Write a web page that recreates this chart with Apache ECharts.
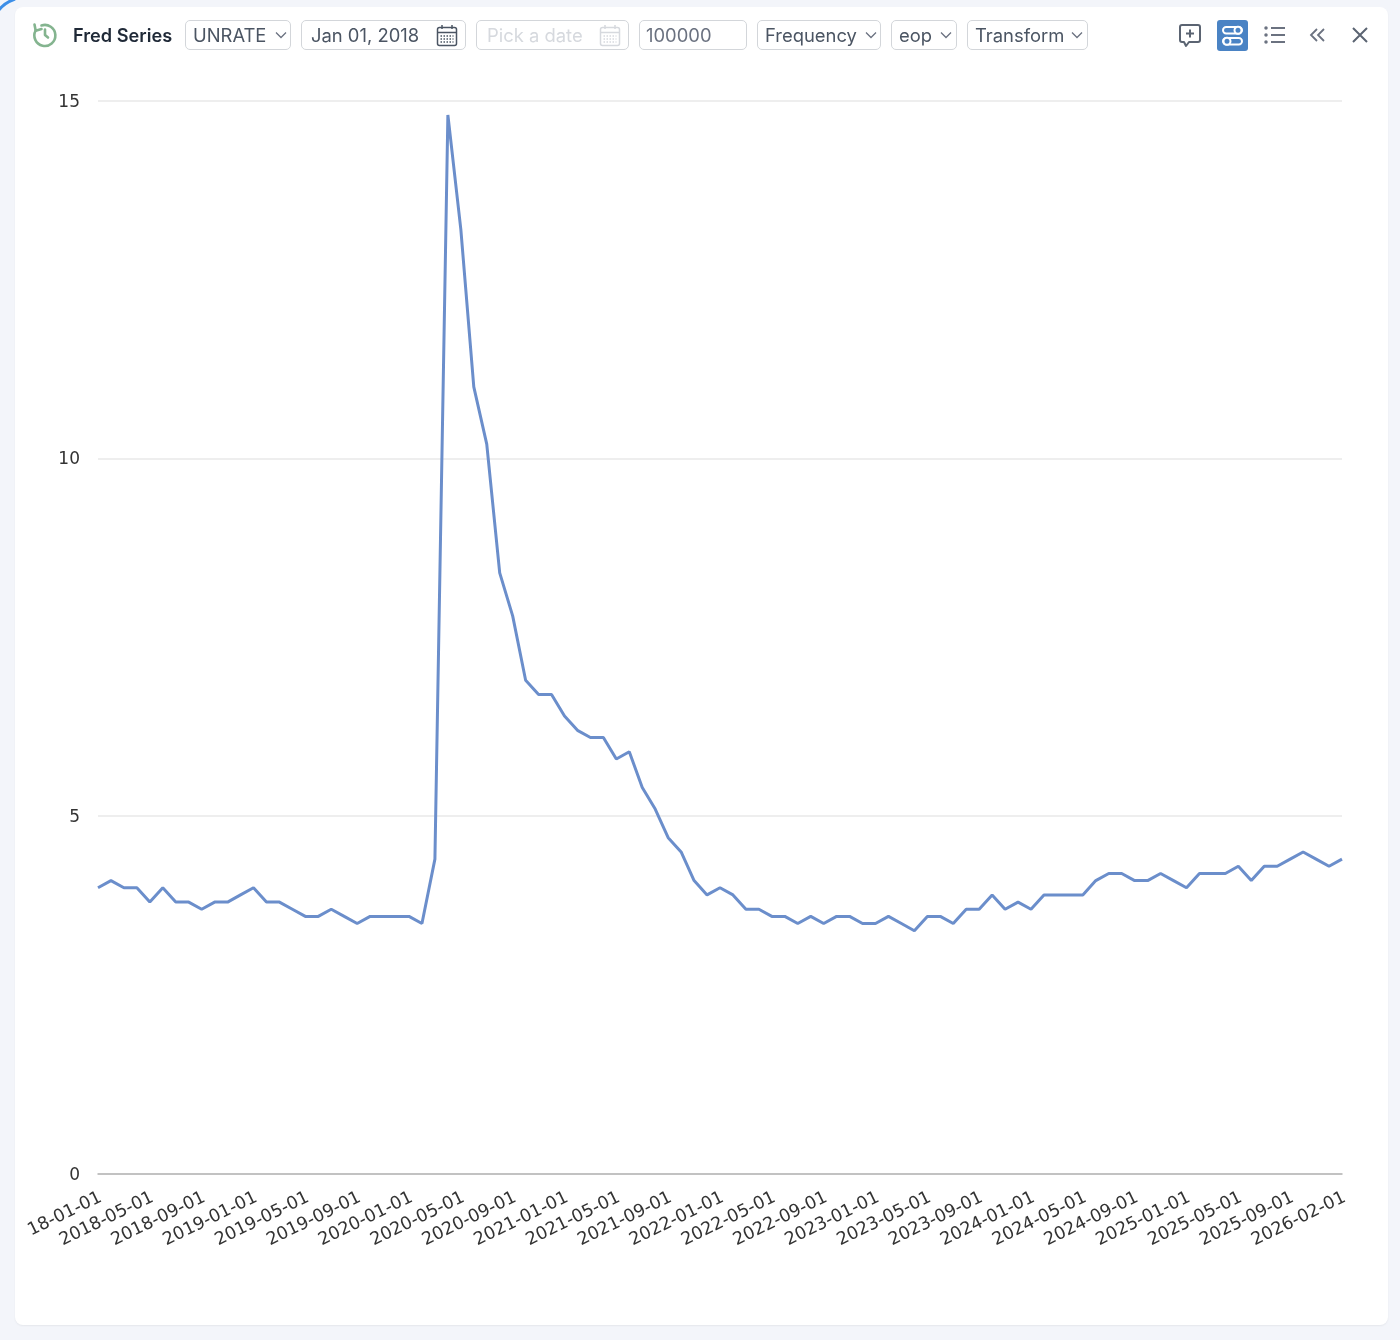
<!DOCTYPE html>
<html>
<head>
<meta charset="utf-8">
<script src="https://cdn.jsdelivr.net/npm/echarts@6/dist/echarts.min.js"></script>
<style>
html,body{margin:0;padding:0;width:1400px;height:1340px;overflow:hidden;background:#f3f5fa;font-family:Inter,sans-serif}
#card{position:absolute;left:15px;top:7px;width:1373px;height:1318px;background:#fff;border-radius:8px;box-shadow:0 1px 2px rgba(0,0,0,.06)}
#chart{position:absolute;left:0;top:0;width:1400px;height:1340px}
.box{position:absolute;top:20px;height:28px;border:1px solid #d3d6da;border-radius:5px;background:#fff;font-size:18.4px;line-height:29px;color:#4b5563;white-space:nowrap}
.box span{position:absolute;top:0}
.box svg{position:absolute}
#title{position:absolute;left:73px;top:24px;font-size:18.2px;font-weight:600;line-height:22px;color:#1f2937}
.ic{position:absolute}
</style>
</head>
<body>
<svg class="ic" style="left:0;top:0" width="20" height="14" fill="none" stroke="#3d8fe8" stroke-width="3"><path d="M-1 10Q4 3 15 -1"/></svg>
<div id="card"></div>
<div id="chart"></div>

<svg class="ic" style="left:31px;top:21px" width="28" height="28" viewBox="0 0 28 28" fill="none" stroke="#84b48f" stroke-width="2.600" stroke-linecap="round" stroke-linejoin="round"><path d="M10.500 4.500A10.500 10.500 0 1 1 4.600 9.500"/><path d="M3.500 3.500l1.200 6.200 5.800-1.600"/><path d="M14 8.500v5.500l3 2.500"/></svg>
<div id="title">Fred Series</div>

<div class="box" style="left:185px;width:104px"><span style="left:7px">UNRATE</span><svg style="left:89px;top:10px" width="12" height="8" fill="none" stroke="#6b7280" stroke-width="1.300"><path d="M1 1.500l5 5 5-5"/></svg></div>
<div class="box" style="left:301px;width:163px"><span style="left:9px">Jan 01, 2018</span><svg style="left:134px;top:3px" width="22" height="23" viewBox="0 0 22 23" fill="none" stroke="#4b5563" stroke-width="1.500"><rect x="1.500" y="3.500" width="19" height="18" rx="2"/><path d="M1.500 8.500h19M6 1v4M16 1v4"/><path stroke-dasharray="1.500 1.500" d="M4.500 12h13M4.500 15h13M4.500 18h13"/></svg></div>
<div class="box" style="left:476px;width:151px"><span style="left:10px;color:#d6d9de">Pick a date</span><svg style="left:122px;top:3px" width="22" height="23" viewBox="0 0 22 23" fill="none" stroke="#d6d9de" stroke-width="1.500"><rect x="1.500" y="3.500" width="19" height="18" rx="2"/><path d="M1.500 8.500h19M6 1v4M16 1v4"/><path stroke-dasharray="1.500 1.500" d="M4.500 12h13M4.500 15h13M4.500 18h13"/></svg></div>
<div class="box" style="left:639px;width:106px"><span style="left:6px;color:#6b7280">100000</span></div>
<div class="box" style="left:757px;width:122px"><span style="left:7px">Frequency</span><svg style="left:107px;top:10px" width="12" height="8" fill="none" stroke="#6b7280" stroke-width="1.300"><path d="M1 1.500l5 5 5-5"/></svg></div>
<div class="box" style="left:891px;width:64px"><span style="left:7px">eop</span><svg style="left:48px;top:10px" width="12" height="8" fill="none" stroke="#6b7280" stroke-width="1.300"><path d="M1 1.500l5 5 5-5"/></svg></div>
<div class="box" style="left:967px;width:119px"><span style="left:7px">Transform</span><svg style="left:103px;top:10px" width="12" height="8" fill="none" stroke="#6b7280" stroke-width="1.300"><path d="M1 1.500l5 5 5-5"/></svg></div>

<svg class="ic" style="left:1178px;top:23px" width="24" height="26" viewBox="0 0 24 26" fill="none" stroke="#5b6472" stroke-width="2" stroke-linejoin="round"><path d="M4 2h16a2 2 0 0 1 2 2v13a2 2 0 0 1-2 2h-9l-3 4-2-4H4a2 2 0 0 1-2-2V4a2 2 0 0 1 2-2z"/><path d="M12 6.500v8M8 10.500h8"/></svg>
<svg class="ic" style="left:1217px;top:20px" width="31" height="31" viewBox="0 0 31 31" fill="none"><rect width="31" height="31" rx="3" fill="#4a83c4"/><rect x="6" y="7" width="19" height="6.500" rx="3.200" stroke="#fff" stroke-width="2"/><rect x="6" y="18" width="19" height="6.500" rx="3.200" stroke="#fff" stroke-width="2"/><circle cx="21" cy="10.200" r="3.500" fill="#4a83c4" stroke="#fff" stroke-width="2"/><circle cx="10" cy="21.200" r="3.500" fill="#4a83c4" stroke="#fff" stroke-width="2"/></svg>
<svg class="ic" style="left:1264px;top:25px" width="22" height="20" viewBox="0 0 22 20" fill="none" stroke="#6b7280" stroke-width="2"><path d="M7 3h14M7 10h14M7 17h14"/><path stroke-width="3.500" stroke-linecap="round" d="M2 3h.01M2 10h.01M2 17h.01"/></svg>
<svg class="ic" style="left:1309px;top:27px" width="18" height="16" viewBox="0 0 18 16" fill="none" stroke="#6b7280" stroke-width="1.800"><path d="M8 2L2 8l6 6M15 2L9 8l6 6"/></svg>
<svg class="ic" style="left:1351px;top:26px" width="18" height="18" viewBox="0 0 18 18" fill="none" stroke="#5b6472" stroke-width="2"><path d="M2 2l14 14M16 2L2 16"/></svg>

<script>
var categories = [
 "18-01-01","2018-02-01","2018-03-01","2018-04-01","2018-05-01","2018-06-01","2018-07-01","2018-08-01","2018-09-01","2018-10-01","2018-11-01","2018-12-01",
 "2019-01-01","2019-02-01","2019-03-01","2019-04-01","2019-05-01","2019-06-01","2019-07-01","2019-08-01","2019-09-01","2019-10-01","2019-11-01","2019-12-01",
 "2020-01-01","2020-02-01","2020-03-01","2020-04-01","2020-05-01","2020-06-01","2020-07-01","2020-08-01","2020-09-01","2020-10-01","2020-11-01","2020-12-01",
 "2021-01-01","2021-02-01","2021-03-01","2021-04-01","2021-05-01","2021-06-01","2021-07-01","2021-08-01","2021-09-01","2021-10-01","2021-11-01","2021-12-01",
 "2022-01-01","2022-02-01","2022-03-01","2022-04-01","2022-05-01","2022-06-01","2022-07-01","2022-08-01","2022-09-01","2022-10-01","2022-11-01","2022-12-01",
 "2023-01-01","2023-02-01","2023-03-01","2023-04-01","2023-05-01","2023-06-01","2023-07-01","2023-08-01","2023-09-01","2023-10-01","2023-11-01","2023-12-01",
 "2024-01-01","2024-02-01","2024-03-01","2024-04-01","2024-05-01","2024-06-01","2024-07-01","2024-08-01","2024-09-01","2024-10-01","2024-11-01","2024-12-01",
 "2025-01-01","2025-02-01","2025-03-01","2025-04-01","2025-05-01","2025-06-01","2025-07-01","2025-08-01","2025-09-01","2025-11-01","2025-12-01",
 "2026-01-01","2026-02-01"
];
var unrate = [
 4.0,4.1,4.0,4.0,3.8,4.0,3.8,3.8,3.7,3.8,3.8,3.9,
 4.0,3.8,3.8,3.7,3.6,3.6,3.7,3.6,3.5,3.6,3.6,3.6,
 3.6,3.5,4.4,14.8,13.2,11.0,10.2,8.4,7.8,6.9,6.7,6.7,
 6.4,6.2,6.1,6.1,5.8,5.9,5.4,5.1,4.7,4.5,4.1,3.9,
 4.0,3.9,3.7,3.7,3.6,3.6,3.5,3.6,3.5,3.6,3.6,3.5,
 3.5,3.6,3.5,3.4,3.6,3.6,3.5,3.7,3.7,3.9,3.7,3.8,
 3.7,3.9,3.9,3.9,3.9,4.1,4.2,4.2,4.1,4.1,4.2,4.1,
 4.0,4.2,4.2,4.2,4.3,4.1,4.3,4.3,4.4,4.5,4.4,
 4.3,4.4
];
var chart = echarts.init(document.getElementById('chart'), null, {renderer:'canvas', width:1400, height:1340});
chart.setOption({
  animation:false,
  backgroundColor:'transparent',
  grid:{left:98,right:58,top:100.6,bottom:166,containLabel:false},
  xAxis:{
    type:'category',boundaryGap:false,data:categories,
    axisTick:{show:false},
    axisLine:{lineStyle:{color:'#b4b4b4',width:1.5}},
    axisLabel:{interval:3,rotate:26,margin:24,fontFamily:'DejaVu Sans',fontSize:17.6,color:'#333',padding:[0,-3,0,0]}
  },
  yAxis:{
    type:'value',min:0,max:15,interval:5,
    axisLine:{show:false},axisTick:{show:false},
    splitLine:{lineStyle:{color:'#e8e8e8',width:1.5}},
    axisLabel:{margin:18,fontFamily:'DejaVu Sans',fontSize:17,color:'#333',verticalAlign:'top',lineHeight:3}
  },
  series:[{type:'line',data:unrate,showSymbol:false,symbol:'none',lineStyle:{color:'#6b8ecb',width:3},itemStyle:{color:'#6b8ecb'}}]
});
</script>
</body>
</html>
